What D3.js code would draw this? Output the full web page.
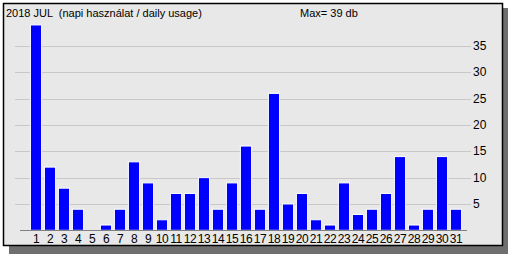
<!DOCTYPE html>
<html>
<head>
<meta charset="utf-8">
<script src="https://cdn.jsdelivr.net/npm/d3@7"></script>
<style>
  body { margin: 0; background: #fff; }
  svg text { font-family: "Liberation Sans", Arial, sans-serif; font-size: 11px; fill: #000; white-space: pre; }
</style>
</head>
<body>
<div class="canvas"></div>
<script>
const days = d3.range(1, 32)
const usage = [39, 12, 8, 4, 0, 1, 4, 13, 9, 2, 7, 7, 10, 4, 9, 16, 4, 26, 5, 7, 2, 1, 9, 3, 4, 7, 14, 1, 4, 14, 4]
const yTicks = [5, 10, 15, 20, 25, 30, 35]
const title = "2018 JUL  (napi használat / daily usage)"
const maxLabel = "Max= " + d3.max(usage) + " db"

const width = 508, height = 254

const svg = d3.select(".canvas").append("svg").attr("width", width).attr("height", height)

// shadow + frame
svg.append("polygon")
    .attr("points", "9,8 508,8 508,254 9,254")
    .attr("fill", "#6f6f6f")
svg.append("rect")
    .attr("x", 3.5).attr("y", 3.5)
    .attr("width", 499).attr("height", 242)
    .attr("fill", "#e8e8e8")
    .attr("stroke", "#000")
    .attr("stroke-width", 1.5)

//scales
const x = d3.scaleBand()
    .domain(days)
    .range([29, 29 + 14 * 31])
    .paddingInner(0.2)
    .paddingOuter(0.1)

const y = d3.scaleLinear().domain([0, 35]).range([230.3, 46])

// grid
svg.append("g").selectAll("line")
    .data(yTicks)
    .enter().append("line")
    .attr("x1", 15).attr("x2", 471)
    .attr("y1", d => Math.round(y(d)) + 0.5)
    .attr("y2", d => Math.round(y(d)) + 0.5)
    .attr("stroke", "#c8c8c8")

svg.append("g").selectAll("text")
    .data(yTicks)
    .enter().append("text")
    .attr("x", 473)
    .attr("y", d => y(d) + 4)
    .style("font-size", "12px")
    .text(d => d)

// bars
svg.append("g").selectAll("rect")
    .data(usage)
    .enter().append("rect")
    .attr("x", (d, i) => x(days[i]))
    .attr("y", d => y(d))
    .attr("width", x.bandwidth())
    .attr("height", d => Math.max(0, y(0) - y(d)))
    .attr("fill", "#0000ff")
    .attr("stroke", d => d > 0 ? "#fff" : "none")
    .attr("stroke-width", 1)

// x axis
svg.append("line")
    .attr("x1", 20).attr("x2", 467)
    .attr("y1", 230.5).attr("y2", 230.5)
    .attr("stroke", "#808080")

svg.append("g").selectAll("text")
    .data(days)
    .enter().append("text")
    .attr("x", d => x(d) + x.bandwidth() / 2)
    .attr("y", 243)
    .attr("text-anchor", "middle")
    .style("font-size", "12px")
    .style("letter-spacing", "-0.5px")
    .text(d => d)

svg.append("text").attr("x", 6).attr("y", 17).text(title)
svg.append("text").attr("x", 300).attr("y", 17).text(maxLabel)
</script>
</body>
</html>
